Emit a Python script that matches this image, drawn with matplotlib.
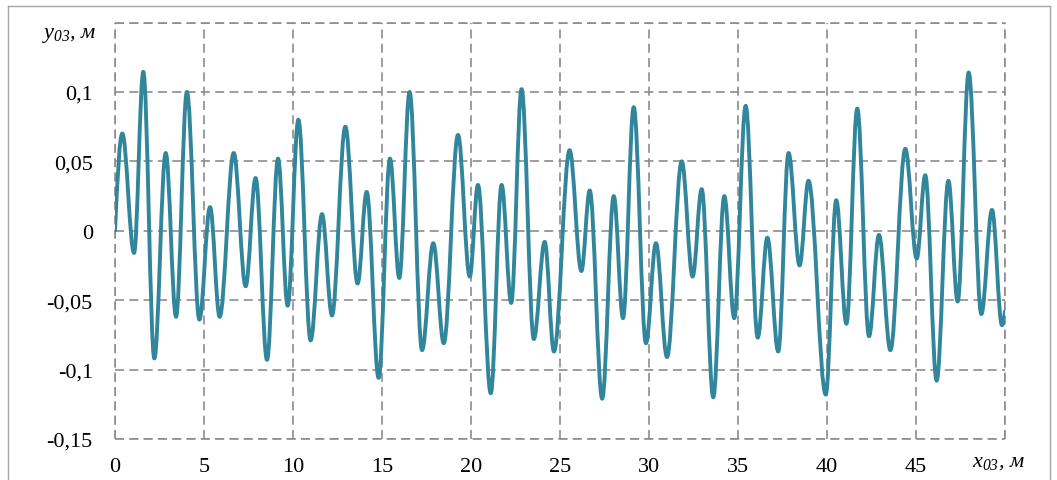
import numpy as np
import matplotlib
matplotlib.use("Agg")
import matplotlib.pyplot as plt
from matplotlib.path import Path
from matplotlib.patches import PathPatch
from matplotlib.lines import Line2D

plt.rcParams['font.family'] = ['Liberation Serif', 'DejaVu Serif']
plt.rcParams['mathtext.fontset'] = 'custom'
plt.rcParams['mathtext.rm'] = 'Liberation Serif:italic'
plt.rcParams['mathtext.it'] = 'Liberation Serif:italic'
plt.rcParams['lines.scale_dashes'] = False

# peaks and troughs (x in m, y in m)
x_pts = [0, 0.41, 1.07, 1.59, 2.21, 2.85, 3.43, 4.04, 4.74, 5.34,
         5.88, 6.67, 7.34, 7.90, 8.54, 9.16, 9.70, 10.30, 10.99, 11.63,
         12.19, 12.94, 13.63, 14.14, 14.81, 15.45, 15.97, 16.55, 17.25, 17.88,
         18.47, 19.27, 19.93, 20.39, 21.11, 21.72, 22.26, 22.84, 23.53, 24.14,
         24.66, 25.54, 26.20, 26.67, 27.37, 28.02, 28.54, 29.14, 29.83, 30.39,
         31.01, 31.84, 32.45, 32.96, 33.61, 34.23, 34.79, 35.43, 36.11, 36.65,
         37.26, 37.84, 38.46, 38.96, 39.93, 40.52, 41.09, 41.70, 42.36, 42.92,
         43.56, 44.40, 45.04, 45.52, 46.16, 46.82, 47.34, 47.96, 48.67, 49.27,
         49.83, 50.0]
y_pts = [0, 0.070, -0.016, 0.1145, -0.092, 0.056, -0.062, 0.100, -0.064, 0.017,
         -0.062, 0.056, -0.040, 0.038, -0.093, 0.052, -0.054, 0.080, -0.079, 0.012,
         -0.061, 0.075, -0.038, 0.028, -0.106, 0.052, -0.034, 0.100, -0.086, -0.009,
         -0.081, 0.069, -0.033, 0.033, -0.117, 0.033, -0.052, 0.102, -0.078, -0.008,
         -0.087, 0.058, -0.029, 0.029, -0.121, 0.025, -0.063, 0.089, -0.081, -0.009,
         -0.091, 0.050, -0.033, 0.030, -0.120, 0.025, -0.063, 0.090, -0.077, -0.005,
         -0.087, 0.056, -0.025, 0.036, -0.118, 0.022, -0.067, 0.088, -0.076, -0.003,
         -0.086, 0.059, -0.020, 0.040, -0.108, 0.036, -0.051, 0.114, -0.060, 0.015,
         -0.068, -0.058]

x_ticks = [0, 5, 10, 15, 20, 25, 30, 35, 40, 45, 50]
x_labels = ['0', '5', '10', '15', '20', '25', '30', '35', '40', '45', '']
y_ticks = [-0.15, -0.1, -0.05, 0, 0.05, 0.1, 0.15]
y_labels = ['-0,15', '-0,1', '-0,05', '0', '0,05', '0,1', '']

line_color = '#31869B'
grid_color = '#8C8C8C'

fig = plt.figure(figsize=(10.57, 4.81), dpi=100)
ax = fig.add_axes([115/1057, 1 - 440/481, 890/1057, 416.5/481])

# smooth curve: bezier segments between extrema (horizontal tangent at extrema)
k = 0.363
verts = [(x_pts[0], y_pts[0])]
codes = [Path.MOVETO]
n = len(x_pts)
for i in range(n - 1):
    x0, y0 = x_pts[i], y_pts[i]
    x1, y1 = x_pts[i+1], y_pts[i+1]
    dx = x1 - x0
    dy = y1 - y0
    s0 = 0.57*dy if i == 0 else 0
    s1 = 0.57*dy if i == n - 2 else 0
    verts += [(x0 + k*dx, y0 + s0), (x1 - k*dx, y1 - s1), (x1, y1)]
    codes += [Path.CURVE4]*3
curve = PathPatch(Path(verts, codes), fill=False, edgecolor=line_color,
                  lw=2.8, capstyle='round', joinstyle='round', zorder=3)
ax.add_patch(curve)

ax.set_xlim(0, 50)
ax.set_ylim(-0.15, 0.15)
ax.set_xticks(x_ticks)
ax.set_xticklabels(x_labels)
ax.set_yticks(y_ticks)
ax.set_yticklabels(y_labels)
ax.tick_params(length=0, labelsize=16, colors='black')
ax.tick_params(axis='x', pad=13)
ax.tick_params(axis='y', pad=16)
for s in ax.spines.values():
    s.set_visible(False)

ax.grid(True, color=grid_color, lw=1.2, linestyle=(0, (6.5, 3.8)))
ax.set_axisbelow(True)
# border gridlines (x=0, x=50, y=+-0.15) are drawn as dashed too
for xv in [0, 50]:
    ax.axvline(xv, color=grid_color, lw=1.2, linestyle=(0, (6.5, 3.8)), clip_on=False, zorder=1)
for yv in [-0.15, 0.15]:
    ax.axhline(yv, color=grid_color, lw=1.2, linestyle=(0, (6.5, 3.8)), clip_on=False, zorder=1)

# axis names in place of the last tick labels
fig.text(97/1057, 1 - 38/481, r'$y_{03}$, м', ha='right', va='baseline',
         fontsize=16, style='italic')
fig.text(972/1057, 1 - 467/481, r'$x_{03}$, м', ha='left', va='baseline',
         fontsize=16, style='italic')

# thin frame round the figure
bc = '#A6A6A6'
fig.add_artist(Line2D([8/1057, 8/1057], [0, 1 - 7/481], transform=fig.transFigure, color=bc, lw=1))
fig.add_artist(Line2D([8/1057, 1050/1057], [1 - 7/481, 1 - 7/481], transform=fig.transFigure, color=bc, lw=1))
fig.add_artist(Line2D([1050/1057, 1050/1057], [0, 1 - 7/481], transform=fig.transFigure, color=bc, lw=1))

fig.savefig('out.png', dpi=100)
